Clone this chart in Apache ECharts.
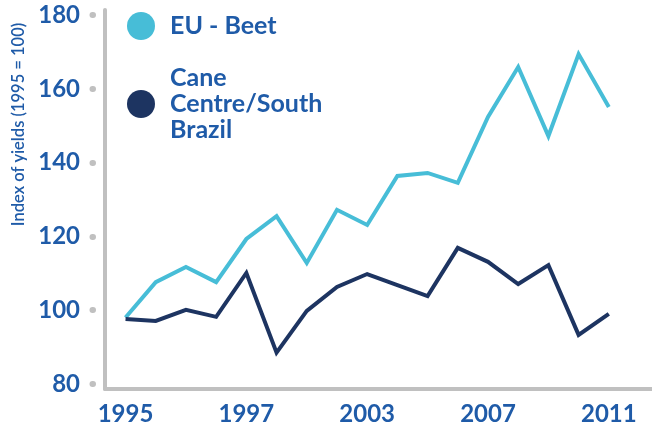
<!DOCTYPE html>
<html>
<head>
<meta charset="utf-8">
<script src="https://cdn.jsdelivr.net/npm/echarts@6/dist/echarts.min.js"></script>
<style>
  html, body { margin: 0; padding: 0; background: #fff; }
  #chart { width: 652px; height: 428px; }
</style>
</head>
<body>
<div id="chart"></div>
<script>
// years 1995..2011, one point per year
const years = ["1995", "1996", "1997", "1998", "1999", "2000", "2001", "2002", "2003",
  "2004", "2005", "2006", "2007", "2008", "2009", "2010", "2011"];
const beet = [98, 107.6, 111.7, 107.6, 119.3, 125.5, 112.8, 127.2, 123.1,
  136.4, 137.2, 134.5, 152.4, 165.9, 147.2, 169.4, 155.1];
const cane = [97.6, 97.1, 100.1, 98.2, 110.1, 88.5, 99.8, 106.3, 109.8,
  106.8, 103.8, 116.9, 113.1, 107.1, 112.2, 93.3, 99.0];
// labels as printed on the chart, shown at every 4th year
const xTickAt = [0, 4, 8, 12, 16];
const xTickLabels = ["1995", "1997", "2003", "2007", "2011"];
const yTicks = [80, 100, 120, 140, 160, 180];
const legendText = {
  "EU - Beet": "EU - Beet",
  "Cane Centre/South Brazil": "Cane\nCentre/South\nBrazil",
};

const BLUE = "#1f5ba8";
const GREY = "#c0c0c0";
const FONT = "Lato";

const chart = echarts.init(document.getElementById("chart"));
const option = {
  animation: false,
  backgroundColor: "#fff",
  textStyle: { fontFamily: FONT },
  grid: { left: 105, right: 0, top: 10, bottom: 39 },
  legend: {
    orient: "vertical",
    left: 122,
    top: 7,
    icon: "circle",
    itemWidth: 28,
    itemHeight: 28,
    itemGap: 25,
    formatter: (name) => legendText[name],
    textStyle: {
      color: BLUE,
      fontFamily: FONT,
      fontWeight: "bold",
      fontSize: 25,
      lineHeight: 26,
      padding: [0, 0, 0, 10],
    },
  },
  xAxis: {
    type: "value",
    min: -0.68,
    max: 17.43,
    splitLine: { show: false },
    axisTick: { show: false },
    axisLine: { show: true, onZero: false, lineStyle: { color: GREY, width: 4 } },
    axisLabel: {
      customValues: xTickAt,
      formatter: (v) => xTickLabels[xTickAt.indexOf(Math.round(v))] || "",
      color: BLUE,
      fontFamily: FONT,
      fontWeight: "bold",
      fontSize: 24,
      margin: 13,
    },
  },
  yAxis: [
    {
      type: "value",
      min: 78.64,
      max: 181.36,
      splitLine: { show: false },
      axisTick: { show: false },
      axisLine: { show: true, onZero: false, lineStyle: { color: GREY, width: 4 } },
      axisLabel: {
        customValues: yTicks,
        color: BLUE,
        fontFamily: FONT,
        fontWeight: "bold",
        fontSize: 24,
        margin: 25,
      },
      name: "Index of yields (1995 = 100)",
      nameLocation: "middle",
      nameRotate: 90,
      nameGap: 78,
      nameTextStyle: {
        color: BLUE,
        fontFamily: FONT,
        fontSize: 16.5,
        fontWeight: 600,
        padding: [0, 0, 0, 150],
      },
    },
    {
      // grey dots beside the axis
      type: "value",
      position: "left",
      offset: 12,
      min: 78.64,
      max: 181.36,
      splitLine: { show: false },
      axisLine: { show: false, onZero: false },
      axisLabel: { show: false },
      axisTick: {
        show: true,
        customValues: yTicks,
        length: 0.5,
        lineStyle: { color: GREY, width: 6, cap: "round" },
      },
    },
  ],
  series: [
    {
      name: "EU - Beet",
      type: "line",
      symbol: "none",
      color: "#47bdd7",
      lineStyle: { width: 4, join: "miter" },
      data: beet.map((v, i) => [i, v]),
      z: 2,
    },
    {
      name: "Cane Centre/South Brazil",
      type: "line",
      symbol: "none",
      color: "#1d3461",
      lineStyle: { width: 4, join: "miter" },
      data: cane.map((v, i) => [i, v]),
      z: 3,
    },
  ],
};
chart.setOption(option);
</script>
</body>
</html>
